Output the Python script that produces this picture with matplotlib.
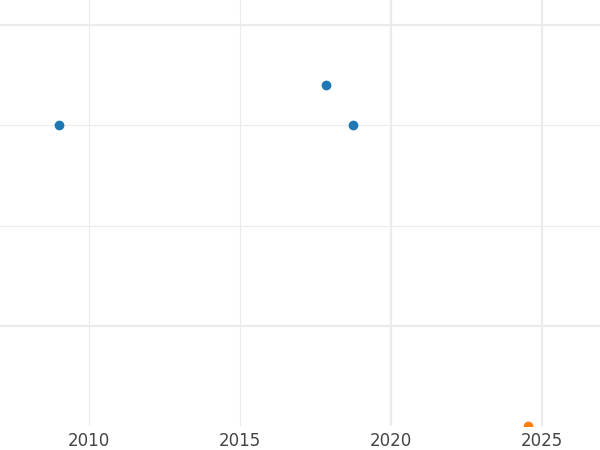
import matplotlib
matplotlib.use("Agg")
import matplotlib.pyplot as plt

x_blue = [2009.0, 2017.85, 2018.75]
y_blue = [3.0, 3.4, 3.0]
x_orange = [2024.55]
y_orange = [0.0]
xticks = [2010, 2015, 2020, 2025]
yticks = [1, 2, 3, 4]

fig = plt.figure(figsize=(6, 4.5), dpi=100)
ax = fig.add_axes([0, 24/450, 1, 426/450])
ax.scatter(x_blue, y_blue, s=36, color="#1f77b4", zorder=3)
ax.scatter(x_orange, y_orange, s=36, color="#ff7f0e", zorder=3, clip_on=True)
ax.set_xlim(2007.05, 2026.92)
ax.set_ylim(0, 4.25)
ax.set_xticks(xticks)
ax.set_yticks(yticks)
ax.set_yticklabels([])
ax.tick_params(length=0, labelsize=12, labelcolor="#444444", pad=4.5)
ax.grid(True, color="#ebebeb")
for i, gl in enumerate(ax.get_xgridlines()):
    gl.set_linewidth(1.6 if i >= 2 else 0.8)
for i, gl in enumerate(ax.get_ygridlines()):
    gl.set_linewidth(1.6 if i in (0, 3) else 0.8)
for s in ax.spines.values():
    s.set_visible(False)
fig.savefig("out.png")
